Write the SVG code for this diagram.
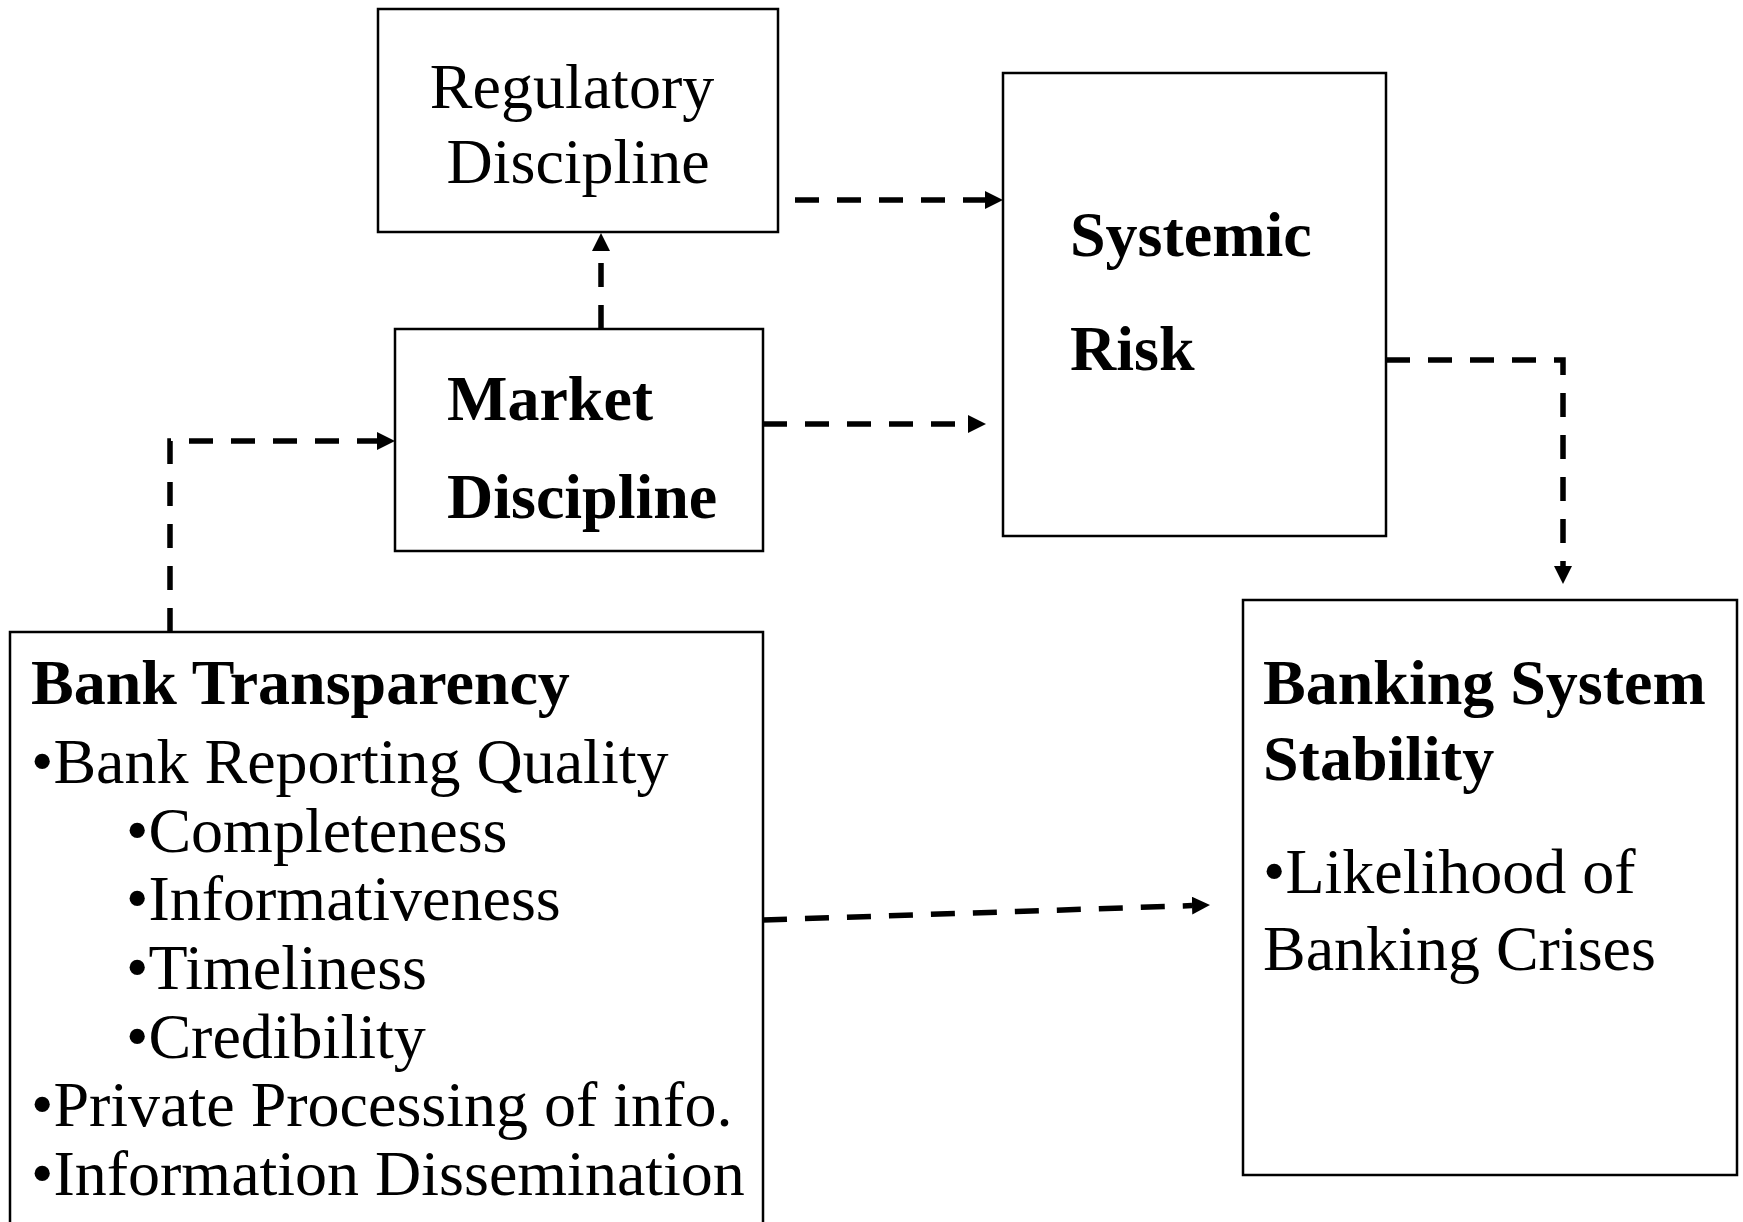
<svg xmlns="http://www.w3.org/2000/svg" width="1743" height="1222" viewBox="0 0 1743 1222">
  <style>
    .box { fill: #ffffff; stroke: #000000; stroke-width: 2.5; }
    .t { font-family: "Liberation Serif", "Times New Roman", serif; font-size: 64px; fill: #000000; }
    .b { font-weight: bold; }
    .link { fill: none; stroke: #000000; stroke-width: 5.5; stroke-dasharray: 24 18; }
  </style>
  <defs>
    <!-- arrowhead sits beyond the path end, its base on the end point -->
    <marker id="arrow" markerUnits="userSpaceOnUse" markerWidth="18" markerHeight="18" viewBox="0 0 18 18" refX="0" refY="9" orient="auto">
      <path d="M0,0 L18,9 L0,18 Z" fill="#000000"/>
    </marker>
  </defs>
  <rect width="1743" height="1222" fill="#ffffff"/>

  <g id="connectors">
    <!-- Regulatory Discipline to Systemic Risk -->
    <path class="link" d="M795,200 L985,200" marker-end="url(#arrow)"/>
    <!-- Market Discipline up to Regulatory Discipline -->
    <path class="link" d="M601,329 L601,251" marker-end="url(#arrow)"/>
    <!-- Market Discipline to Systemic Risk -->
    <path class="link" d="M763,424 L968,424" marker-end="url(#arrow)"/>
    <!-- Bank Transparency to Market Discipline -->
    <path class="link" d="M170,632 L170,441 L377,441" marker-end="url(#arrow)"/>
    <!-- Systemic Risk to Banking System Stability -->
    <path class="link" d="M1386,360 L1563,360 L1563,566" marker-end="url(#arrow)"/>
    <!-- Bank Transparency to Banking System Stability -->
    <path class="link" d="M763,920 L1192,905.6" marker-end="url(#arrow)"/>
  </g>

  <g id="regulatory-discipline">
    <rect class="box" x="378" y="9" width="400" height="223"/>
    <text class="t" x="572" y="108" text-anchor="middle">Regulatory</text>
    <text class="t" x="578" y="183" text-anchor="middle">Discipline</text>
  </g>

  <g id="market-discipline">
    <rect class="box" x="395" y="329" width="368" height="222"/>
    <text class="t b" x="447" y="420">Market</text>
    <text class="t b" x="447" y="518">Discipline</text>
  </g>

  <g id="systemic-risk">
    <rect class="box" x="1003" y="73" width="383" height="463"/>
    <text class="t b" x="1070" y="256">Systemic</text>
    <text class="t b" x="1070" y="370">Risk</text>
  </g>

  <g id="bank-transparency">
    <rect class="box" x="10" y="632" width="753" height="600"/>
    <text class="t b" x="31" y="704">Bank Transparency</text>
    <text class="t" x="31" y="783">•Bank Reporting Quality</text>
    <text class="t" x="126" y="852">•Completeness</text>
    <text class="t" x="126" y="920">•Informativeness</text>
    <text class="t" x="126" y="989">•Timeliness</text>
    <text class="t" x="126" y="1058">•Credibility</text>
    <text class="t" x="31" y="1126">•Private Processing of info.</text>
    <text class="t" x="31" y="1195">•Information Dissemination</text>
  </g>

  <g id="banking-system-stability">
    <rect class="box" x="1243" y="600" width="494" height="575"/>
    <text class="t b" x="1263" y="704">Banking System</text>
    <text class="t b" x="1263" y="780">Stability</text>
    <text class="t" x="1263" y="893">•Likelihood of</text>
    <text class="t" x="1263" y="970">Banking Crises</text>
  </g>
</svg>
